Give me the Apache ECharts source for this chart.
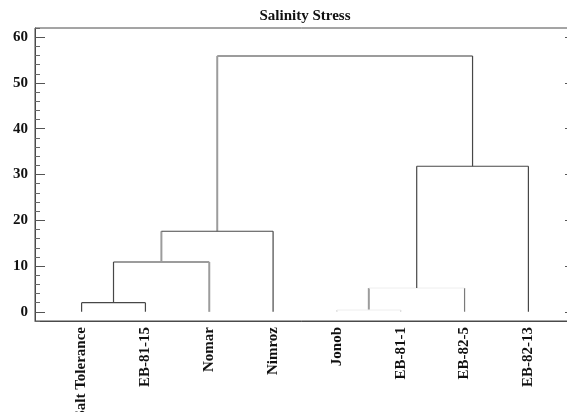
<!DOCTYPE html>
<html>
<head>
<meta charset="utf-8">
<script src="https://cdn.jsdelivr.net/npm/echarts@6/dist/echarts.min.js"></script>
<style>html,body{margin:0;padding:0;background:#fff;}#c{width:567px;height:412px;}</style>
</head>
<body>
<div id="c"></div>
<script>
// ---- data ----
const leaves = ['Salt Tolerance', 'EB-81-15', 'Nomar', 'Nimroz', 'Jonob', 'EB-81-1', 'EB-82-5', 'EB-82-13'];
// merge steps: children indices (0..7 leaves, 8+ = result of merge step k-8)
const mergePairs = [[0, 1], [8, 2], [9, 3], [4, 5], [11, 6], [12, 7], [10, 13]];
const mergeHeights = [2.0, 10.9, 17.6, 0.4, 5.2, 31.8, 55.9];
const yMajorTicks = [0, 10, 20, 30, 40, 50, 60];
const titleText = 'Salinity Stress';

// ---- styles (per merge: left vertical, right vertical, horizontal) ----
const DARK = { color: '#474747', width: 1.2 };
const GRAY = { color: '#9c9c9c', width: 2 };
const MID = { color: '#7a7a7a', width: 1.2 };
const FAINT = { color: '#cccccc', width: 1 };
const VFAINT = { color: '#eeeeee', width: 1 };
const linkStyles = [
  { l: DARK, r: DARK, h: DARK },
  { l: DARK, r: GRAY, h: GRAY },
  { l: GRAY, r: DARK, h: DARK },
  { l: FAINT, r: FAINT, h: VFAINT },
  { l: GRAY, r: MID, h: VFAINT },
  { l: DARK, r: DARK, h: DARK },
  { l: GRAY, r: DARK, h: GRAY }
];

// ---- build segments from the merge structure ----
const nodeX = leaves.map((_, i) => i + 1);
const nodeH = leaves.map(() => 0);
const series = [];
function seg(a, b, st) {
  series.push({
    type: 'line', data: [a, b], showSymbol: false, symbol: 'none',
    lineStyle: { color: st.color, width: st.width }, silent: true, z: st === GRAY ? 2 : 3
  });
}
mergePairs.forEach((p, k) => {
  const h = mergeHeights[k];
  const xl = nodeX[p[0]], xr = nodeX[p[1]];
  const st = linkStyles[k];
  seg([xl, nodeH[p[0]]], [xl, h], st.l);
  seg([xr, nodeH[p[1]]], [xr, h], st.r);
  seg([xl, h], [xr, h], st.h);
  nodeX.push((xl + xr) / 2);
  nodeH.push(h);
});

const FONT = '"Liberation Serif", "Times New Roman", serif';
const chart = echarts.init(document.getElementById('c'), null, { renderer: 'canvas' });
chart.setOption({
  animation: false,
  backgroundColor: '#fff',
  title: {
    text: titleText, left: 305, top: 9, textAlign: 'center', padding: 0,
    textStyle: { fontFamily: FONT, fontWeight: 'bold', fontSize: 15, color: '#111' }
  },
  grid: {
    left: 35, top: 28, width: 540, height: 293, show: true,
    borderColor: '#4a4a4a', borderWidth: 1, backgroundColor: 'transparent',
    containLabel: false, outerBoundsMode: 'none'
  },
  xAxis: {
    type: 'value', min: 0.27, max: 8.73,
    axisLine: { show: true, onZero: false, lineStyle: { color: '#4a4a4a', width: 1 } },
    axisTick: { show: false },
    splitLine: { show: false },
    axisLabel: {
      customValues: leaves.map((_, i) => i + 1),
      formatter: v => leaves[Math.round(v) - 1] || '',
      rotate: 90, margin: 6,
      fontFamily: FONT, fontWeight: 'bold', fontSize: 15, color: '#111'
    }
  },
  yAxis: [
    {
      type: 'value', min: -2, max: 62, interval: 2, position: 'left',
      axisLine: { show: true, lineStyle: { color: '#4a4a4a', width: 1 } },
      axisTick: { show: true, inside: true, length: 5, lineStyle: { color: '#666' } },
      splitLine: { show: false },
      axisLabel: {
        customValues: yMajorTicks, margin: 7,
        fontFamily: FONT, fontWeight: 'bold', fontSize: 15, color: '#111'
      }
    },
    {
      type: 'value', min: -2, max: 62, interval: 2, position: 'left',
      axisLine: { show: false },
      axisTick: { show: true, inside: true, length: 10, customValues: yMajorTicks, lineStyle: { color: '#555' } },
      splitLine: { show: false },
      axisLabel: { show: false }
    },
    {
      type: 'value', min: -2, max: 62, interval: 2, position: 'right',
      axisLine: { show: false },
      axisTick: { show: true, inside: true, length: 10, customValues: yMajorTicks, lineStyle: { color: '#555' } },
      splitLine: { show: false },
      axisLabel: { show: false }
    }
  ],
  series: series
});
</script>
</body>
</html>
